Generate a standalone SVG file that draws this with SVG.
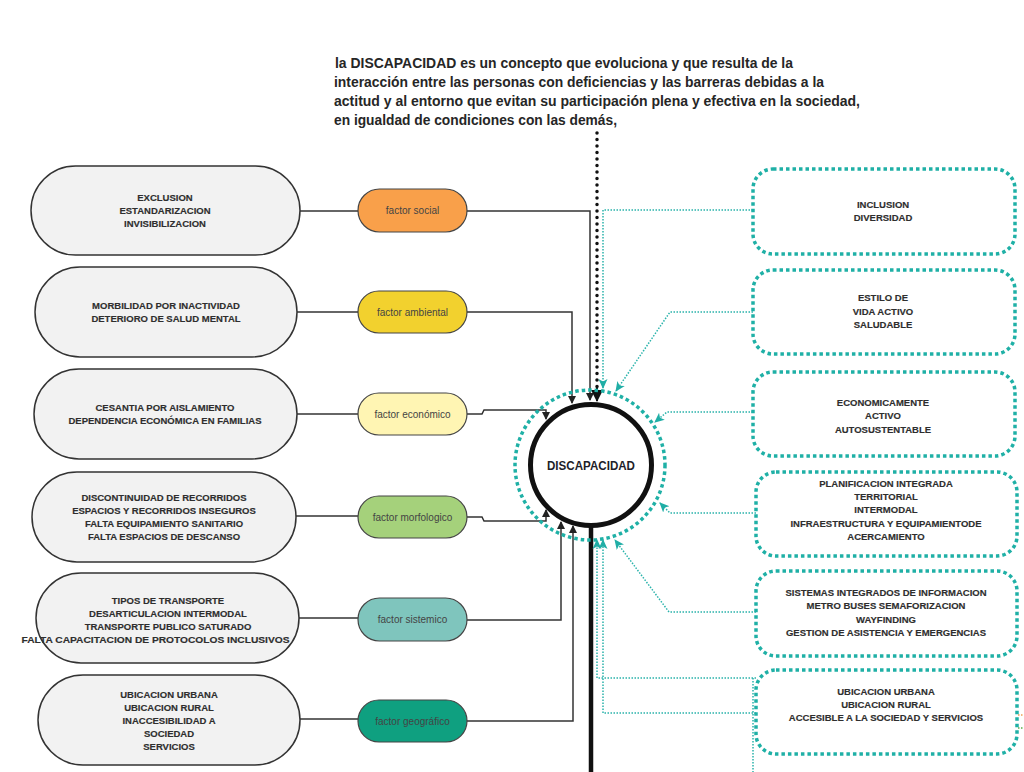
<svg xmlns="http://www.w3.org/2000/svg" width="1024" height="772" viewBox="0 0 1024 772">
<style>
.title{font-family:"Liberation Sans",Arial,sans-serif;font-weight:bold;font-size:14px;fill:#262626}
.lp{fill:#f2f2f2;stroke:#333;stroke-width:1.5}
.lt{font-family:"Liberation Sans",Arial,sans-serif;font-weight:bold;font-size:9.5px;fill:#2e2e2e;stroke:#2e2e2e;stroke-width:0.15;text-anchor:middle}
.fp{stroke:#444;stroke-width:1.2}
.ft{font-family:"Liberation Sans",Arial,sans-serif;font-size:10px;fill:#444;text-anchor:middle}
.rb{fill:#fff;stroke:#1fb0a6;stroke-width:3.5;stroke-dasharray:3.5 3}
.bk{fill:none;stroke:#333;stroke-width:1.5}
.tl{fill:none;stroke:#2ab3ab;stroke-width:1.5;stroke-dasharray:1.5 1.5}
</style>
<defs>
<marker id="ab" markerWidth="8" markerHeight="8" refX="7" refY="4" orient="auto" markerUnits="userSpaceOnUse"><path d="M0,0 L8,4 L0,8 Z" fill="#222"/></marker>
<marker id="at" markerWidth="10" markerHeight="10" refX="9" refY="5" orient="auto" markerUnits="userSpaceOnUse"><path d="M0,0.5 L10,5 L0,9.5 L2.5,5 Z" fill="#20aea6"/></marker>
<marker id="abig" markerWidth="12" markerHeight="12" refX="11" refY="6" orient="auto" markerUnits="userSpaceOnUse"><path d="M0,0 L12,6 L0,12 Z" fill="#111"/></marker>
</defs>
<rect width="1024" height="772" fill="#fff"/>

<g id="title">
<text class="title" x="335" y="68" textLength="458" lengthAdjust="spacingAndGlyphs">la <tspan font-weight="900">DISCAPACIDAD</tspan> es un concepto que evoluciona y que resulta de la</text>
<text class="title" x="334" y="87" textLength="490" lengthAdjust="spacingAndGlyphs">interacción entre las personas con deficiencias y las barreras debidas a la</text>
<text class="title" x="334" y="106" textLength="526" lengthAdjust="spacingAndGlyphs">actitud y al entorno que evitan su participación plena y efectiva en la sociedad,</text>
<text class="title" x="334" y="125" textLength="283" lengthAdjust="spacingAndGlyphs">en igualdad de condiciones con las demás,</text>
</g>

<g id="connectors">
<path class="bk" d="M300,211 H358"/>
<path class="bk" d="M297,312 H358"/>
<path class="bk" d="M297,414 H358"/>
<path class="bk" d="M296,516 H358"/>
<path class="bk" d="M299,618 H358"/>
<path class="bk" d="M300,719 H358"/>
<path class="bk" d="M467,211 H590 V400" marker-end="url(#ab)"/>
<path class="bk" d="M467,312 H572 V403" marker-end="url(#ab)"/>
<path class="bk" d="M467,414 H482 L484,410 H546 V419" marker-end="url(#ab)"/>
<path class="bk" d="M467,517 H482 L484,521 H546 V510" marker-end="url(#ab)"/>
<path class="bk" d="M467,620 H561 V522" marker-end="url(#ab)"/>
<path class="bk" d="M467,721 H573 V526" marker-end="url(#ab)"/>
<path d="M597,133 V390" fill="none" stroke="#111" stroke-width="3.5" stroke-linecap="round" stroke-dasharray="0 6.5"/>
<path d="M597,388 V401" fill="none" stroke="#111" stroke-width="2" marker-end="url(#abig)"/>
<path d="M591,527 V772" fill="none" stroke="#111" stroke-width="4.5"/>
<path class="tl" d="M753,210 H603 V388" marker-end="url(#at)"/>
<path class="tl" d="M753,312 H670 L616,391" marker-end="url(#at)"/>
<path class="tl" d="M753,412 H667 L655,422" marker-end="url(#at)"/>
<path class="tl" d="M756,513 H670 L660,503" marker-end="url(#at)"/>
<path class="tl" d="M756,612 H669 L615,540" marker-end="url(#at)"/>
<path class="tl" d="M756,678 H597 V540" marker-end="url(#at)"/>
<path class="tl" d="M756,713 H603 V540" marker-end="url(#at)"/>
<path class="tl" d="M753,678 V772"/>
<path d="M1018,715 H1024" stroke="#f0a050" stroke-width="1.5" stroke-dasharray="1.5 1.5"/>
<path d="M1018,728 H1024" stroke="#5bb04a" stroke-width="1.5" stroke-dasharray="1.5 1.5"/>
</g>

<g id="center">
<circle cx="590" cy="465" r="75" fill="none" stroke="#1fb0a6" stroke-width="3.5" stroke-dasharray="3.5 3"/>
<circle cx="591" cy="465" r="60.5" fill="#fff" stroke="#111" stroke-width="5"/>
<text x="591" y="469.5" font-family="'Liberation Sans',Arial,sans-serif" font-weight="bold" font-size="12" fill="#1e1e2a" text-anchor="middle" textLength="88" lengthAdjust="spacingAndGlyphs">DISCAPACIDAD</text>
</g>

<g id="l1"><rect class="lp" x="31" y="166" width="269" height="89" rx="44.5"/>
<text class="lt" x="165" y="201">EXCLUSION</text><text class="lt" x="165" y="214">ESTANDARIZACION</text><text class="lt" x="165" y="227">INVISIBILIZACION</text></g>
<g id="l2"><rect class="lp" x="35" y="267" width="262" height="90" rx="45"/>
<text class="lt" x="166" y="309">MORBILIDAD POR INACTIVIDAD</text><text class="lt" x="166" y="322">DETERIORO DE SALUD MENTAL</text></g>
<g id="l3"><rect class="lp" x="34" y="369" width="263" height="90" rx="45"/>
<text class="lt" x="165" y="411">CESANTIA POR AISLAMIENTO</text><text class="lt" x="165" y="424">DEPENDENCIA ECONÓMICA EN FAMILIAS</text></g>
<g id="l4"><rect class="lp" x="32" y="472" width="264" height="90" rx="45"/>
<text class="lt" x="164" y="501">DISCONTINUIDAD DE RECORRIDOS</text><text class="lt" x="164" y="514">ESPACIOS Y RECORRIDOS INSEGUROS</text><text class="lt" x="164" y="527">FALTA EQUIPAMIENTO SANITARIO</text><text class="lt" x="164" y="540">FALTA ESPACIOS DE DESCANSO</text></g>
<g id="l5"><rect class="lp" x="36" y="573" width="263" height="90" rx="45"/>
<text class="lt" x="168" y="604">TIPOS DE TRANSPORTE</text><text class="lt" x="168" y="617">DESARTICULACION INTERMODAL</text><text class="lt" x="168" y="630">TRANSPORTE PUBLICO SATURADO</text><text class="lt" x="155.5" y="643" textLength="268" lengthAdjust="spacingAndGlyphs">FALTA CAPACITACION DE PROTOCOLOS INCLUSIVOS</text></g>
<g id="l6"><rect class="lp" x="38" y="675" width="262" height="90" rx="45"/>
<text class="lt" x="169" y="698">UBICACION URBANA</text><text class="lt" x="169" y="711">UBICACION RURAL</text><text class="lt" x="169" y="724">INACCESIBILIDAD A</text><text class="lt" x="169" y="737">SOCIEDAD</text><text class="lt" x="169" y="750">SERVICIOS</text></g>

<g id="f1"><rect class="fp" x="358" y="189" width="109" height="43" rx="21.5" fill="#f9a04a"/><text class="ft" x="412.5" y="214">factor social</text></g>
<g id="f2"><rect class="fp" x="358" y="291" width="109" height="42" rx="21" fill="#f2d12e"/><text class="ft" x="412.5" y="315.5">factor ambiental</text></g>
<g id="f3"><rect class="fp" x="358" y="393" width="109" height="42" rx="21" fill="#fff5b3"/><text class="ft" x="412.5" y="417.5">factor económico</text></g>
<g id="f4"><rect class="fp" x="358" y="496" width="109" height="42" rx="21" fill="#a5d17b"/><text class="ft" x="412.5" y="520.5">factor morfologico</text></g>
<g id="f5"><rect class="fp" x="358" y="598" width="109" height="43" rx="21.5" fill="#7fc5bd"/><text class="ft" x="412.5" y="623">factor sistemico</text></g>
<g id="f6"><rect class="fp" x="358" y="700" width="109" height="42" rx="21" fill="#0fa080"/><text class="ft" x="412.5" y="724.5" fill="#1d4a40">factor geográfico</text></g>

<g id="r1"><rect class="rb" x="753" y="169" width="262" height="85" rx="20"/>
<text class="lt" x="883" y="208">INCLUSION</text><text class="lt" x="883" y="221">DIVERSIDAD</text></g>
<g id="r2"><rect class="rb" x="753" y="270" width="262" height="84" rx="20"/>
<text class="lt" x="883" y="301">ESTILO DE</text><text class="lt" x="883" y="315">VIDA ACTIVO</text><text class="lt" x="883" y="328">SALUDABLE</text></g>
<g id="r3"><rect class="rb" x="753" y="372" width="262" height="84" rx="20"/>
<text class="lt" x="883" y="406">ECONOMICAMENTE</text><text class="lt" x="883" y="419">ACTIVO</text><text class="lt" x="883" y="433">AUTOSUSTENTABLE</text></g>
<g id="r4"><rect class="rb" x="756" y="472" width="261" height="84" rx="20"/>
<text class="lt" x="886" y="487">PLANIFICACION INTEGRADA</text><text class="lt" x="886" y="500">TERRITORIAL</text><text class="lt" x="886" y="513">INTERMODAL</text><text class="lt" x="886" y="527">INFRAESTRUCTURA Y EQUIPAMIENTODE</text><text class="lt" x="886" y="540">ACERCAMIENTO</text></g>
<g id="r5"><rect class="rb" x="756" y="571" width="261" height="85" rx="20"/>
<text class="lt" x="886" y="596">SISTEMAS INTEGRADOS DE INFORMACION</text><text class="lt" x="886" y="609">METRO BUSES SEMAFORIZACION</text><text class="lt" x="886" y="623">WAYFINDING</text><text class="lt" x="886" y="636">GESTION DE ASISTENCIA Y EMERGENCIAS</text></g>
<g id="r6"><rect class="rb" x="756" y="670" width="261" height="84" rx="20"/>
<text class="lt" x="886" y="695">UBICACION URBANA</text><text class="lt" x="886" y="708">UBICACION RURAL</text><text class="lt" x="886" y="721">ACCESIBLE A LA SOCIEDAD Y SERVICIOS</text></g>
</svg>
